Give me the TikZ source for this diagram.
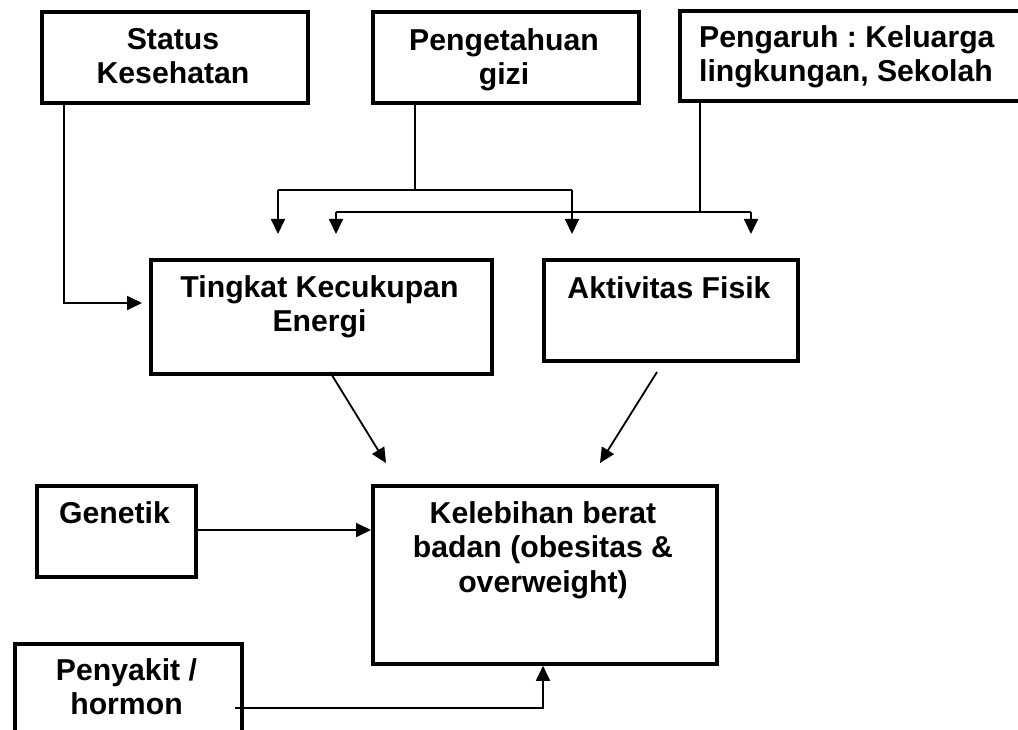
\documentclass[tikz,border=0pt]{standalone}
\usepackage{fontspec}
\setmainfont{Liberation Sans}
\usetikzlibrary{arrows.meta}
\frenchspacing
\tikzset{
  box/.style={draw=black, line width=3.8pt, rectangle, inner sep=0pt, anchor=north west},
  lbl/.style={font=\fontsize{30.2}{34.5}\selectfont\bfseries, inner sep=0pt, align=center, anchor=north},
  conn/.style={draw=black, line width=1.8pt},
  arr/.style={conn, -{Triangle[length=15pt,width=14pt]}}
}
\begin{document}
\begin{tikzpicture}[x=1pt,y=-1pt]
\useasboundingbox (0,0) rectangle (1018,730);
\clip (0,0) rectangle (1018,730);
% boxes
\node[box, minimum width=266pt, minimum height=91pt] (st) at (40,10) {};
\node[box, minimum width=266pt, minimum height=91pt] (pg) at (371,10) {};
\node[box, minimum width=360pt, minimum height=90pt] (ph) at (678,9) {};
\node[box, minimum width=341pt, minimum height=114pt] (tke) at (149,258) {};
\node[box, minimum width=254pt, minimum height=101pt] (af) at (542,258) {};
\node[box, minimum width=159pt, minimum height=91pt] (gen) at (35,484) {};
\node[box, minimum width=344pt, minimum height=178pt] (kb) at (371,484) {};
\node[box, minimum width=227pt, minimum height=100pt] (py) at (13,642) {};
% labels
\node[lbl] (stt) at (173,28) {Status\\Kesehatan};
\node[lbl] (pgt) at (504,28) {Pengetahuan\\gizi};
\node[lbl, anchor=north west, align=left] (pht) at (699,25) {Pengaruh : Keluarga\\lingkungan, Sekolah};
\node[lbl] (tket) at (319.5,275) {Tingkat Kecukupan\\Energi};
\node[lbl] (aft) at (669,276) {Aktivitas Fisik};
\node[lbl] (gent) at (114.5,501) {Genetik};
\node[lbl] (kbt) at (543,501) {Kelebihan berat\\badan (obesitas \&\\overweight)};
\node[lbl] (pyt) at (126.5,658) {Penyakit /\\hormon};
% coordinates
\coordinate (s1) at (64,303);
\coordinate (g1) at (415,190);
\coordinate (gl) at (278,190);
\coordinate (gr) at (572,190);
\coordinate (h1) at (700,212);
\coordinate (hl) at (336,212);
\coordinate (hr) at (751,212);
\coordinate (t1) at (278,234);
\coordinate (t2) at (336,234);
\coordinate (t3) at (572,234);
\coordinate (t4) at (751,234);
\coordinate (a1) at (330,372);
\coordinate (a2) at (386,463);
\coordinate (b1) at (657,372);
\coordinate (b2) at (600,463);
\coordinate (p1) at (235,708);
\coordinate (p2) at (543,708);
\coordinate (s2) at (142,303);
% connectors
\draw[arr] (st.south -| s1) -- (s1) -- (s2);
\draw[conn] (pg.south -| g1) -- (g1);
\draw[conn] (gl) -- (gr);
\draw[arr] (gl) -- (t1);
\draw[arr] (gr) -- (t3);
\draw[conn] (ph.south -| h1) -- (h1);
\draw[conn] (hl) -- (hr);
\draw[arr] (hl) -- (t2);
\draw[arr] (hr) -- (t4);
\draw[arr] (a1) -- (a2);
\draw[arr] (b1) -- (b2);
\draw[arr] (gen.east |- 0,530) -- (kb.west |- 0,530);
\draw[arr] (p1) -- (p2) -- (kb.south -| p2);
\end{tikzpicture}
\end{document}
